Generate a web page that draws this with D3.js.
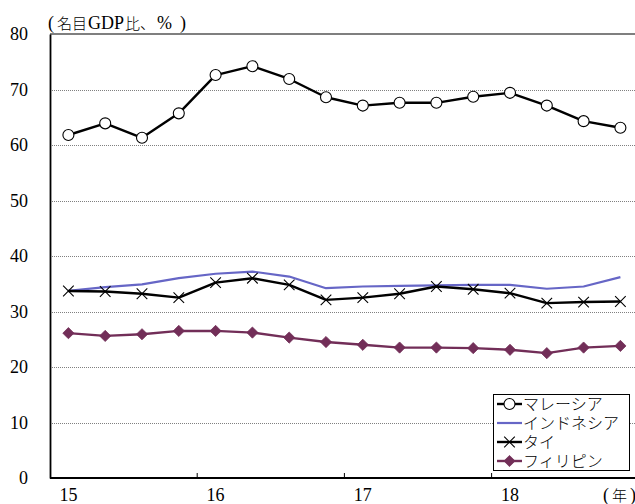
<!DOCTYPE html>
<html>
<head>
<meta charset="utf-8">
<script src="https://cdn.jsdelivr.net/npm/d3@7"></script>
<style>
  html, body { margin: 0; padding: 0; background: #fff; }
  svg { display: block; }
  text { font-family: "Liberation Serif", "Noto Sans CJK JP", serif; }
</style>
</head>
<body>
<div id="chart"></div>
<script>
// ---- data ----
const quarters = ["15Q1","15Q2","15Q3","15Q4","16Q1","16Q2","16Q3","16Q4",
                  "17Q1","17Q2","17Q3","17Q4","18Q1","18Q2","18Q3","18Q4"];
const yearLabels = ["15","16","17","18"];
const yearStarts = ["15Q1","16Q1","17Q1","18Q1"];
const yTicks = [0,10,20,30,40,50,60,70,80];

const malaysia    = [61.8,63.9,61.3,65.7,72.6,74.2,71.9,68.6,67.1,67.6,67.6,68.7,69.4,67.1,64.3,63.1];
const indonesia   = [33.7,34.4,34.9,36.0,36.8,37.2,36.3,34.2,34.5,34.6,34.7,34.8,34.8,34.1,34.5,36.2];
const thailand    = [33.7,33.6,33.2,32.5,35.2,36.0,34.8,32.1,32.5,33.2,34.5,34.0,33.3,31.5,31.7,31.8];
const philippines = [26.1,25.6,25.9,26.5,26.5,26.2,25.3,24.5,24.0,23.5,23.5,23.4,23.1,22.5,23.5,23.8];

const seriesNames = ["マレーシア","インドネシア","タイ","フィリピン"];
// title pieces: [text, font-size, dx]
const yTitleParts = [["(",18,0],["名目",15,3],["GDP",18,1],["比、",15,1],["%",18,2],[")",18,8]];
const xUnitParts  = [["(",18,0],["年",15,3],[")",18,3]];

// ---- layout ----
const W = 635, H = 504;
const mLeft = 50, mTop = 34, mBottom = 478;
const bandW = 36.8;

const svg = d3.select("#chart").append("svg").attr("width", W).attr("height", H);

const x = d3.scaleBand().domain(quarters).range([mLeft, mLeft + bandW * quarters.length]).padding(0);
const cx = q => x(q) + x.bandwidth() / 2;
const y = d3.scaleLinear().domain([0, 80]).range([mBottom, mTop]);

// gridlines
svg.append("g").selectAll("line").data(yTicks.filter(v => v > 0 && v < 80)).join("line")
  .attr("x1", mLeft).attr("x2", W).attr("y1", d => Math.round(y(d)) + 0.5).attr("y2", d => Math.round(y(d)) + 0.5)
  .attr("stroke", "#808080").attr("stroke-width", 1).attr("stroke-dasharray", "1,1");

// top border
svg.append("line").attr("x1", mLeft).attr("x2", W).attr("y1", y(80)).attr("y2", y(80))
  .attr("stroke", "#000").attr("stroke-width", 1.2);

// y axis
const yAxis = d3.axisLeft(y).tickValues(yTicks).tickSize(0).tickPadding(22).tickFormat(d3.format("d"));
const gy = svg.append("g").attr("transform", `translate(${mLeft},0)`).call(yAxis);
gy.select(".domain").attr("stroke", "#000").attr("stroke-width", 1.8);
gy.selectAll("text").attr("font-size", 18).attr("fill", "#000")
  .attr("font-family", "Liberation Serif, serif");

// x axis
const xAxis = d3.axisBottom(x).tickValues(yearStarts).tickSize(0).tickPadding(10)
  .tickFormat((d, i) => yearLabels[i]);
const gx = svg.append("g").attr("transform", `translate(0,${mBottom})`).call(xAxis);
gx.select(".domain").attr("d", `M${mLeft},0H${W}`).attr("stroke", "#000").attr("stroke-width", 1.8);
gx.selectAll("text").attr("font-size", 18).attr("fill", "#000")
  .attr("font-family", "Liberation Serif, serif");
// inner tick marks at year boundaries
svg.append("g").selectAll("line").data(yearStarts.slice(1)).join("line")
  .attr("x1", d => x(d)).attr("x2", d => x(d))
  .attr("y1", mBottom).attr("y2", mBottom - 5)
  .attr("stroke", "#000").attr("stroke-width", 1);

function partsText(parts, px, py) {
  const t = svg.append("text").attr("x", px).attr("y", py).attr("fill", "#000");
  parts.forEach(([s, fs, dx]) => {
    t.append("tspan").attr("dx", dx).attr("font-size", fs)
      .attr("font-weight", /[\u3000-\u9fff]/.test(s) ? 300 : 400).text(s);
  });
  return t;
}
partsText(yTitleParts, 48, 29);
partsText(xUnitParts, 603, 501);

// line generator
const line = d3.line().x((d, i) => cx(quarters[i])).y(d => y(d));

// symbols
function drawCircle(g, px, py) {
  g.append("circle").attr("cx", px).attr("cy", py).attr("r", 5.5)
    .attr("fill", "#fff").attr("stroke", "#000").attr("stroke-width", 1.1);
}
function drawX(g, px, py) {
  const s = 5.3;
  g.append("path").attr("d", `M${px-s},${py-s}L${px+s},${py+s}M${px-s},${py+s}L${px+s},${py-s}`)
    .attr("stroke", "#000").attr("stroke-width", 1.1).attr("fill", "none");
}
function drawDiamond(g, px, py) {
  const s = 5.6;
  g.append("path").attr("d", `M${px},${py-s}L${px+s},${py}L${px},${py+s}L${px-s},${py}Z`)
    .attr("fill", "#722E58").attr("stroke", "#722E58").attr("stroke-width", 0.8);
}

const series = [
  { name: seriesNames[0], data: malaysia, color: "#000", width: 2.4, marker: drawCircle },
  { name: seriesNames[1], data: indonesia, color: "#6666C6", width: 2.2, marker: null },
  { name: seriesNames[2], data: thailand, color: "#000", width: 2.4, marker: drawX },
  { name: seriesNames[3], data: philippines, color: "#722E58", width: 2.4, marker: drawDiamond }
];

[series[3], series[1], series[2], series[0]].forEach(s => {
  const g = svg.append("g");
  g.append("path").datum(s.data).attr("d", line)
    .attr("fill", "none").attr("stroke", s.color).attr("stroke-width", s.width)
    .attr("stroke-linejoin", "round");
  if (s.marker) s.data.forEach((v, i) => s.marker(g, cx(quarters[i]), y(v)));
});

// legend
const lg = svg.append("g");
lg.append("rect").attr("x", 493.5).attr("y", 394.5).attr("width", 136).attr("height", 76)
  .attr("fill", "#fff").attr("stroke", "#000").attr("stroke-width", 1);
series.forEach((s, i) => {
  const ly = 404 + i * 19;
  lg.append("line").attr("x1", 497).attr("x2", 522).attr("y1", ly).attr("y2", ly)
    .attr("stroke", s.color).attr("stroke-width", s.width);
  if (s.marker) s.marker(lg, 509.5, ly);
  lg.append("text").attr("x", 523).attr("y", ly + 6).attr("font-size", 16)
    .attr("font-family", "Noto Sans CJK JP, sans-serif").attr("font-weight", 300)
    .text(s.name);
});
</script>
</body>
</html>
